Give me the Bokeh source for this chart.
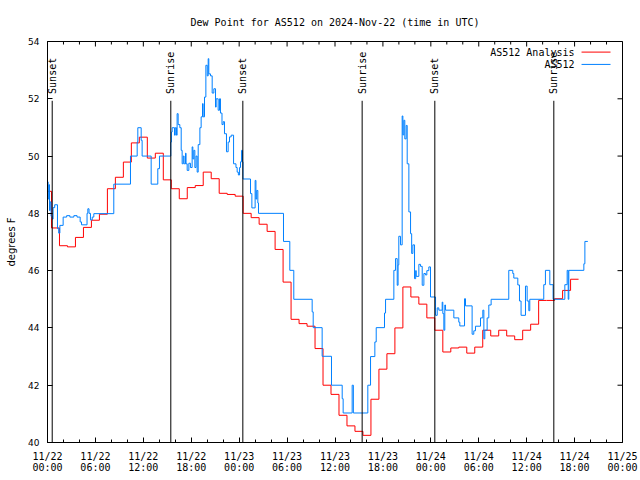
import math
from bokeh.plotting import figure
from bokeh.models import Range1d, FixedTicker
from bokeh.core.properties import value
from bokeh.embed import file_html
from bokeh.resources import INLINE

title = "Dew Point for AS512 on 2024-Nov-22 (time in UTC)"
y_label = "degrees F"

# time axis: hours since 2024-11-22 00:00 UTC
x_ticks = [0, 6, 12, 18, 24, 30, 36, 42, 48, 54, 60, 66, 72]
x_minor = [2, 4, 8, 10, 14, 16, 20, 22, 26, 28, 32, 34,
           38, 40, 44, 46, 50, 52, 56, 58, 62, 64, 68, 70]
x_tick_labels = ["11/22\n00:00", "11/22\n06:00", "11/22\n12:00", "11/22\n18:00",
                 "11/23\n00:00", "11/23\n06:00", "11/23\n12:00", "11/23\n18:00",
                 "11/24\n00:00", "11/24\n06:00", "11/24\n12:00", "11/24\n18:00",
                 "11/25\n00:00"]
y_ticks = [40, 42, 44, 46, 48, 50, 52, 54]

# AS512 Analysis (red), step series
analysis_t = [0, 0.5, 1.5, 2.5, 3.5, 4.5, 5.5, 6.5, 7.5, 8.5, 9.5, 10.5, 11.5, 12.5,
              13.5, 14.5, 15.5, 16.5, 17.5, 18.5, 19.5, 20.5, 21.5, 22.5, 23.5, 24.5,
              25.5, 26.5, 27.5, 28.5, 29.5, 30.5, 31.5, 32.5, 33.5, 34.5, 35.5, 36.5,
              37.5, 38.5, 39.5, 40.5, 41.5, 42.5, 43.5, 44.5, 45.5, 46.5, 47.5, 48.5,
              49.5, 50.5, 51.5, 52.5, 53.5, 54.5, 55.5, 56.5, 57.5, 58.5, 59.5, 60.5,
              61.5, 62.5, 63.5, 64.5, 65.5, 66.5]
analysis_v = [48.77, 47.49, 46.87, 46.83, 47.16, 47.51, 47.76, 47.97, 48.86, 49.26,
              49.79, 50.46, 50.66, 49.93, 50.10, 49.17, 48.86, 48.51, 48.90, 48.97,
              49.44, 49.21, 48.70, 48.66, 48.60, 48.00, 47.85, 47.62, 47.37, 46.74,
              45.60, 44.30, 44.15, 44.06, 43.28, 42.00, 41.68, 40.95, 40.58, 40.39,
              40.25, 41.51, 42.56, 43.10, 44.00, 45.43, 45.08, 44.83, 44.35, 43.92,
              43.16, 43.30, 43.33, 43.12, 43.33, 43.92, 43.72, 43.92, 43.72, 43.59,
              43.92, 44.13, 44.96, 44.96, 45.02, 45.31, 45.70, 45.70]

# AS512 observations (blue), step series
obs_t = [0.0, 0.08, 0.17, 0.25, 0.33, 0.45, 0.58, 0.7, 0.9, 1.25, 1.4, 1.55, 1.96,
         2.4, 2.8, 3.3, 3.7, 4.09, 4.26, 4.95, 5.05, 5.2, 5.38, 5.6, 5.8, 8.3, 10.39,
         11.23, 11.31, 11.73, 11.85, 12.98, 13.81, 14.02, 15.44, 15.52, 15.61, 15.9,
         16.0, 16.15, 16.23, 16.36, 16.57, 16.74, 16.86, 17.0, 17.1, 17.28, 17.35,
         17.49, 17.7, 17.9, 18.11, 18.2, 18.32, 18.45, 18.6, 18.74, 18.87, 19.08,
         19.24, 19.41, 19.49, 19.66, 19.83, 20.0, 20.12, 20.2, 20.41, 20.62, 20.83,
         21.04, 21.12, 21.37, 21.54, 21.66, 21.85, 22.0, 22.16, 22.41, 22.62, 22.79,
         23.0, 23.3, 23.6, 23.75, 23.9, 24.05, 24.17, 24.3, 24.42, 24.48, 25.42,
         25.59, 26.0, 26.1, 26.2, 26.34, 26.42, 29.55, 30.34, 30.84, 33.14, 33.27,
         34.39, 35.56, 36.9, 37.02, 38.15, 38.3, 40.11, 40.45, 40.99, 41.16, 42.2,
         42.33, 43.37, 43.58, 43.79, 43.9, 43.99, 44.2, 44.41, 44.5, 44.62, 44.74,
         44.91, 45.04, 45.25, 45.46, 45.6, 45.75, 45.96, 46.1, 46.17, 46.5, 46.71,
         46.92, 47.13, 47.33, 47.5, 47.75, 47.96, 48.59, 48.8, 49.0, 49.42, 49.5,
         49.63, 49.75, 49.84, 50.88, 51.5, 51.63, 52.22, 52.34, 53.17, 53.38, 53.59,
         54.22, 54.51, 54.64, 54.76, 55.05, 55.26, 55.55, 57.76, 58.26, 58.39, 58.89,
         59.1, 59.3, 59.85, 60.06, 60.27, 60.39, 62.14, 62.35, 62.9, 63.31, 64.78,
         65.07, 65.2, 65.28, 67.16, 67.29, 67.66]
obs_v = [49.1, 48.5, 49.0, 48.1, 48.4, 47.9, 47.8, 48.2, 48.3, 47.47, 47.31, 47.58,
         47.87, 47.92, 47.87, 47.92, 47.87, 47.7, 47.6, 48.0, 48.16, 48.0, 47.77,
         47.87, 47.99, 49.02, 50.0, 50.49, 50.99, 50.55, 50.0, 49.02, 49.56, 50.0,
         50.49, 50.84, 50.99, 50.73, 50.99, 50.73, 51.48, 51.1, 50.99, 50.2, 49.73,
         50.0, 49.73, 50.1, 49.73, 49.5, 49.75, 49.6, 50.32, 49.9, 50.2, 49.6, 50.0,
         49.44, 50.4, 50.99, 51.37, 51.83, 51.37, 52.06, 53.17, 52.8, 53.4, 52.87,
         52.8, 52.2, 52.35, 51.71, 52.0, 51.6, 52.0, 51.5, 51.1, 51.2, 50.78, 50.15,
         50.49, 50.67, 50.73, 49.73, 49.6, 49.44, 49.34, 49.6, 49.8, 50.2, 49.8, 49.2,
         48.69, 48.19, 49.15, 48.5, 48.8, 48.36, 48.0, 47.02, 46.01, 45.0, 44.56,
         44.01, 43.01, 42.0, 41.53, 41.03, 42.0, 41.03, 42.0, 43.0, 43.51, 44.01,
         44.52, 45.0, 46.01, 46.42, 45.49, 46.2, 47.2, 46.9, 51.4, 50.74, 51.25, 50.6,
         51.07, 49.73, 48.05, 47.29, 46.6, 46.9, 45.72, 46.0, 45.8, 46.22, 46.15,
         45.49, 45.9, 45.85, 46.0, 46.13, 45.08, 44.44, 44.7, 44.62, 44.9, 44.5,
         43.92, 44.8, 44.62, 44.35, 44.2, 44.07, 45.02, 44.77, 43.78, 43.9, 44.06,
         44.35, 44.62, 43.62, 43.92, 44.35, 44.8, 45.0, 46.01, 45.9, 45.74, 45.5,
         44.94, 44.44, 45.46, 44.94, 44.6, 45.0, 45.51, 46.01, 45.51, 45.0, 45.51,
         46.01, 45.0, 46.01, 46.24, 47.02, 47.02]

sunset_t = [0.59, 24.46, 48.5]
sunrise_t = [15.44, 39.4, 63.4]

series_names = ["AS512 Analysis", "AS512"]
series_colors = ["#ff0000", "#0080ff"]

MONO = "DejaVu Sans Mono"
SANS = "DejaVu Sans"

X0, X1, Y0, Y1 = 0, 72, 40, 54

p = figure(frame_width=575, frame_height=401,
           x_range=Range1d(X0, X1), y_range=Range1d(Y0, Y1),
           output_backend="svg", toolbar_location=None, title=title,
           min_border_left=47, min_border_right=18, min_border_top=40,
           min_border_bottom=39, background_fill_color="white",
           border_fill_color="white")
p.outline_line_color = "black"
p.outline_line_width = 1
p.xgrid.visible = False
p.ygrid.visible = False

p.title.text_font = MONO
p.title.text_font_size = "10px"
p.title.text_font_style = "normal"
p.title.align = "center"
p.title.text_color = "black"
p.title.standoff = 28

# bottom axis
xa = p.xaxis[0]
xa.ticker = FixedTicker(ticks=x_ticks, minor_ticks=x_minor)
xa.major_label_overrides = {t: lab for t, lab in zip(x_ticks, x_tick_labels)}
xa.major_label_text_font = MONO
xa.major_label_text_font_size = "10px"
xa.major_label_text_line_height = 1.0
xa.major_label_text_color = "black"
xa.major_label_standoff = 8
xa.major_tick_in = 5
xa.major_tick_out = 0
xa.minor_tick_in = 3
xa.minor_tick_out = 0
xa.axis_line_color = "black"

ya = p.yaxis[0]
ya.ticker = FixedTicker(ticks=y_ticks, minor_ticks=[])
ya.major_label_text_font = SANS
ya.major_label_text_font_size = "9px"
ya.major_label_text_color = "black"
ya.major_label_standoff = 8
ya.major_tick_in = 5
ya.major_tick_out = 0
ya.minor_tick_in = 0
ya.minor_tick_out = 0
ya.axis_label = y_label
ya.axis_label_text_font = SANS
ya.axis_label_text_font_size = "10px"
ya.axis_label_text_font_style = "normal"
ya.axis_label_text_color = "black"
ya.axis_label_standoff = 8

# mirrored tick marks on the top and right borders (half of each dash is clipped)
p.scatter(x=x_ticks, y=[Y1] * len(x_ticks), marker="dash", size=10, angle=math.pi / 2,
          line_color="black", line_width=1)
p.scatter(x=x_minor, y=[Y1] * len(x_minor), marker="dash", size=6, angle=math.pi / 2,
          line_color="black", line_width=1)
p.scatter(x=[X1] * len(y_ticks), y=y_ticks, marker="dash", size=10,
          line_color="black", line_width=1)

# data
p.step(analysis_t, analysis_v, mode="after", line_color=series_colors[0], line_width=1)
p.step(obs_t, obs_v, mode="after", line_color=series_colors[1], line_width=1)

# sun lines and labels
sun_t = sunset_t + sunrise_t
sun_lab = ["Sunset"] * len(sunset_t) + ["Sunrise"] * len(sunrise_t)
line_top = 51.93
label_base = 52.17
p.segment(x0=sun_t, y0=[Y0] * len(sun_t), x1=sun_t, y1=[line_top] * len(sun_t),
          line_color="black", line_width=1)
p.text(x=sun_t, y=[label_base] * len(sun_t), text=sun_lab, angle=math.pi / 2,
       text_align="left", text_baseline="middle", text_font=value(MONO),
       text_font_size="10px", text_color="black")

# legend (gnuplot style: label then sample line)
lx_text = 65.99
lx0, lx1 = 66.87, 70.5
ly = [53.63, 53.2]
p.text(x=[lx_text] * 2, y=ly, text=series_names, text_align="right",
       text_baseline="middle", text_font=value(MONO), text_font_size="10px",
       text_color="black")
p.segment(x0=[lx0] * 2, y0=ly, x1=[lx1] * 2, y1=ly, line_color=series_colors,
          line_width=1)

open("out.html", "w").write(file_html(p, INLINE))
